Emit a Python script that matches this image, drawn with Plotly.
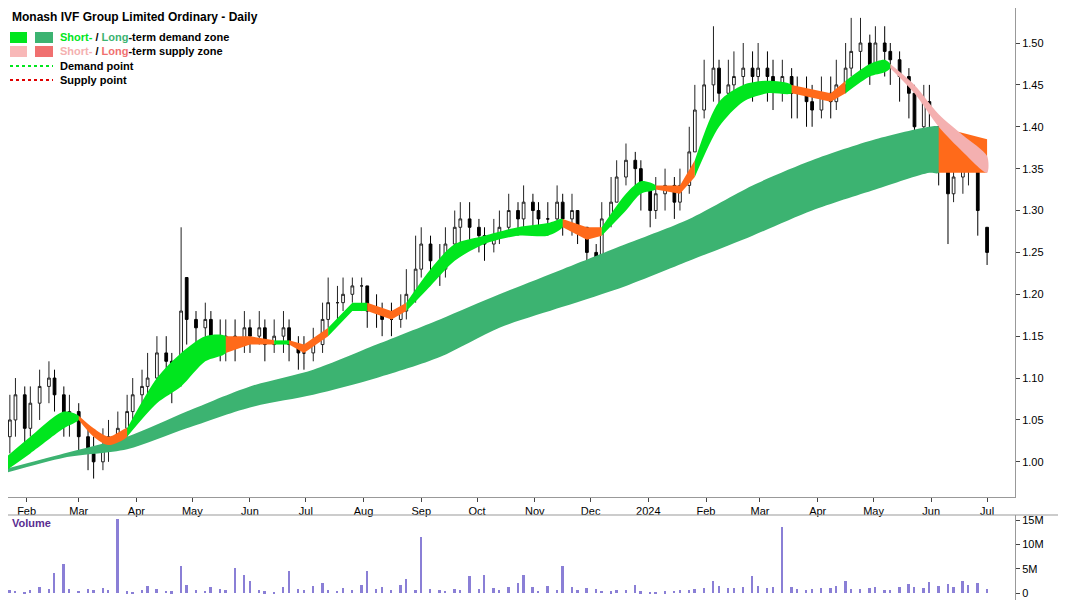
import pandas as pd
import plotly.graph_objects as go

# price bars, one every 3 trading days
dates = pd.bdate_range("2023-01-18", periods=127, freq="3B")
close = [1.03, 1.05, 1.08, 1.04, 1.07, 1.09, 1.10, 1.08, 1.05, 1.06,
         1.03, 1.01, 1.00, 1.02, 1.03, 1.04, 1.06, 1.08, 1.09, 1.10,
         1.13, 1.12, 1.09, 1.18, 1.17, 1.16, 1.17, 1.15, 1.14, 1.15,
         1.14, 1.16, 1.15, 1.16, 1.14, 1.15, 1.16, 1.14, 1.13, 1.13,
         1.14, 1.17, 1.19, 1.19, 1.20, 1.21, 1.21, 1.18, 1.18, 1.17,
         1.17, 1.18, 1.20, 1.23, 1.26, 1.24, 1.23, 1.26, 1.28, 1.29,
         1.28, 1.27, 1.26, 1.27, 1.28, 1.30, 1.29, 1.31, 1.30, 1.29,
         1.29, 1.31, 1.29, 1.30, 1.28, 1.25, 1.24, 1.29, 1.31, 1.34,
         1.36, 1.35, 1.33, 1.30, 1.32, 1.33, 1.31, 1.33, 1.37, 1.42,
         1.45, 1.47, 1.44, 1.45, 1.46, 1.47, 1.46, 1.47, 1.46, 1.45,
         1.46, 1.44, 1.44, 1.43, 1.42, 1.44, 1.43, 1.45, 1.47, 1.49,
         1.50, 1.47, 1.50, 1.49, 1.48, 1.46, 1.44, 1.40, 1.43, 1.42,
         1.36, 1.32, 1.34, 1.35, 1.37, 1.30, 1.25]
open_ = [1.01, 1.03, 1.05, 1.08, 1.04, 1.07, 1.09, 1.10, 1.08, 1.05,
         1.06, 1.03, 1.01, 1.00, 1.02, 1.03, 1.04, 1.06, 1.08, 1.09,
         1.10, 1.13, 1.12, 1.10, 1.22, 1.17, 1.16, 1.17, 1.15, 1.14,
         1.15, 1.14, 1.16, 1.15, 1.16, 1.14, 1.15, 1.16, 1.14, 1.13,
         1.13, 1.14, 1.17, 1.19, 1.19, 1.20, 1.21, 1.21, 1.18, 1.18,
         1.17, 1.17, 1.18, 1.20, 1.23, 1.26, 1.24, 1.23, 1.26, 1.28,
         1.29, 1.28, 1.27, 1.26, 1.27, 1.28, 1.30, 1.29, 1.31, 1.30,
         1.29, 1.29, 1.31, 1.29, 1.30, 1.28, 1.25, 1.24, 1.29, 1.31,
         1.34, 1.36, 1.35, 1.33, 1.30, 1.32, 1.33, 1.31, 1.33, 1.37,
         1.42, 1.45, 1.47, 1.44, 1.45, 1.46, 1.47, 1.46, 1.47, 1.46,
         1.45, 1.46, 1.44, 1.44, 1.43, 1.42, 1.44, 1.43, 1.45, 1.47,
         1.49, 1.50, 1.47, 1.50, 1.49, 1.48, 1.46, 1.44, 1.40, 1.43,
         1.40, 1.36, 1.32, 1.34, 1.35, 1.37, 1.28]
high = [1.06, 1.08, 1.10, 1.09, 1.09, 1.11, 1.12, 1.11, 1.09, 1.08,
        1.07, 1.04, 1.03, 1.04, 1.05, 1.06, 1.08, 1.10, 1.11, 1.13,
        1.15, 1.15, 1.13, 1.28, 1.20, 1.18, 1.19, 1.18, 1.17, 1.17,
        1.17, 1.18, 1.17, 1.18, 1.17, 1.17, 1.18, 1.17, 1.15, 1.15,
        1.16, 1.19, 1.22, 1.21, 1.22, 1.22, 1.22, 1.21, 1.20, 1.19,
        1.19, 1.20, 1.23, 1.27, 1.28, 1.27, 1.26, 1.28, 1.30, 1.31,
        1.31, 1.29, 1.28, 1.29, 1.30, 1.32, 1.31, 1.33, 1.32, 1.31,
        1.31, 1.33, 1.32, 1.32, 1.30, 1.28, 1.26, 1.31, 1.34, 1.36,
        1.38, 1.37, 1.36, 1.33, 1.34, 1.35, 1.34, 1.35, 1.40, 1.45,
        1.48, 1.52, 1.48, 1.48, 1.49, 1.50, 1.49, 1.50, 1.49, 1.48,
        1.48, 1.47, 1.46, 1.46, 1.45, 1.46, 1.46, 1.48, 1.50, 1.53,
        1.53, 1.51, 1.52, 1.52, 1.50, 1.49, 1.47, 1.45, 1.45, 1.45,
        1.41, 1.38, 1.37, 1.37, 1.39, 1.38, 1.28]
low = [0.99, 1.01, 1.03, 1.02, 1.03, 1.05, 1.07, 1.06, 1.03, 1.03,
       1.01, 0.99, 0.98, 0.99, 1.00, 1.02, 1.03, 1.05, 1.06, 1.07,
       1.09, 1.10, 1.07, 1.09, 1.14, 1.14, 1.14, 1.13, 1.12, 1.12,
       1.12, 1.13, 1.13, 1.14, 1.12, 1.13, 1.13, 1.12, 1.11, 1.11,
       1.12, 1.13, 1.16, 1.17, 1.18, 1.19, 1.18, 1.16, 1.16, 1.15,
       1.15, 1.16, 1.17, 1.19, 1.22, 1.22, 1.21, 1.22, 1.25, 1.26,
       1.26, 1.25, 1.24, 1.25, 1.26, 1.27, 1.27, 1.28, 1.28, 1.27,
       1.27, 1.28, 1.27, 1.27, 1.26, 1.22, 1.21, 1.23, 1.28, 1.31,
       1.33, 1.32, 1.30, 1.28, 1.29, 1.30, 1.29, 1.30, 1.32, 1.37,
       1.41, 1.43, 1.41, 1.42, 1.43, 1.44, 1.43, 1.44, 1.43, 1.42,
       1.43, 1.41, 1.41, 1.40, 1.40, 1.41, 1.41, 1.42, 1.44, 1.46,
       1.46, 1.45, 1.47, 1.46, 1.45, 1.43, 1.41, 1.38, 1.39, 1.38,
       1.33, 1.26, 1.31, 1.32, 1.33, 1.27, 1.235]
volume_m = [0.4, 0.6, 0.5, 0.3, 0.7, 1.2, 0.8, 4.2, 6.0, 0.9,
            0.5, 0.8, 0.6, 1.1, 0.7, 15.3, 0.4, 0.3, 0.6, 1.4,
            0.8, 0.5, 0.4, 5.5, 1.6, 0.7, 0.5, 1.2, 0.9, 0.6,
            5.2, 3.6, 2.4, 0.6, 0.4, 0.3, 1.2, 4.5, 0.8, 0.6,
            1.5, 2.0, 0.7, 0.5, 1.0, 0.6, 1.7, 4.6, 0.9, 1.2,
            0.7, 1.6, 2.9, 0.7, 11.5, 0.8, 0.6, 0.5, 0.9, 0.7,
            3.4, 0.8, 3.8, 1.1, 0.6, 1.3, 2.0, 3.6, 1.2, 0.5,
            1.4, 0.7, 5.5, 1.3, 0.6, 1.0, 0.8, 0.5, 0.4, 0.7,
            0.6, 1.6, 0.4, 0.3, 0.3, 0.4, 0.5, 0.6, 0.7, 0.9,
            1.0, 2.5, 1.5, 1.1, 1.0, 1.3, 3.5, 1.4, 1.0, 1.2,
            13.5, 1.3, 0.9, 0.7, 0.8, 1.0, 1.1, 1.5, 2.4, 0.9,
            0.8, 1.1, 1.3, 0.7, 0.6, 1.2, 1.8, 1.3, 1.1, 2.3,
            1.5, 1.9, 1.2, 2.4, 1.6, 2.1, 0.9]

# long-term zone (index into bar dates)
lt_idx = [0, 8, 16, 24, 32, 40, 48, 56, 64, 72, 80, 88, 96, 104, 112, 119, 120, 126]
lt_lo = [0.985, 1.005, 1.015, 1.04, 1.065, 1.08, 1.10, 1.125, 1.16, 1.185,
         1.21, 1.24, 1.27, 1.30, 1.325, 1.345, 1.345, 1.345]
lt_hi = [0.99, 1.01, 1.03, 1.06, 1.09, 1.11, 1.14, 1.17, 1.20, 1.23,
         1.26, 1.29, 1.33, 1.36, 1.385, 1.40, 1.40, 1.385]
lt_state = ["d"] * 16 + ["s"] * 2

# short-term zone
st_idx = [0, 4, 8, 10, 12, 14, 16, 20, 23, 26, 29, 32, 35, 37, 39, 42, 45, 47,
          50, 52, 55, 58, 62, 66, 70, 72, 75, 77, 80, 82, 84, 87, 89, 92, 95,
          98, 101, 106, 108, 111, 113, 114, 117, 120, 123, 126]
st_lo = [0.985, 1.01, 1.04, 1.05, 1.03, 1.02, 1.03, 1.07, 1.09, 1.12, 1.13,
         1.14, 1.14, 1.14, 1.13, 1.15, 1.18, 1.18, 1.17, 1.18, 1.21, 1.24,
         1.26, 1.27, 1.27, 1.28, 1.265, 1.27, 1.30, 1.32, 1.325, 1.32, 1.34,
         1.40, 1.43, 1.44, 1.44, 1.43, 1.44, 1.46, 1.465, 1.47, 1.44, 1.40,
         1.37, 1.345]
st_hi = [1.00, 1.03, 1.06, 1.055, 1.04, 1.03, 1.04, 1.10, 1.13, 1.15, 1.15,
         1.15, 1.145, 1.145, 1.14, 1.16, 1.19, 1.19, 1.18, 1.19, 1.23, 1.26,
         1.27, 1.28, 1.285, 1.29, 1.28, 1.28, 1.32, 1.335, 1.33, 1.33, 1.36,
         1.43, 1.45, 1.455, 1.45, 1.44, 1.455, 1.475, 1.48, 1.475, 1.45, 1.415,
         1.39, 1.365]
st_state = ["d", "d", "d", "s", "s", "s", "d", "d", "d", "d", "s", "s", "d",
            "s", "s", "d", "d", "s", "s", "d", "d", "d", "d", "d", "d", "s",
            "s", "d", "d", "d", "s", "s", "d", "d", "d", "d", "s", "s", "d",
            "d", "d", "p", "p", "p", "p", "p"]

zone_colors = {"d": "#00e61e", "s": "#ff6a1a", "p": "#f4b0b0"}
lt_colors = {"d": "#3cb371", "s": "#ff6a1a"}

# page is offset 8px by the browser body margin; map page pixels to paper
OFF = 8
PW = 1007


def px(x):
    return (x - OFF) / PW


def py(y):
    return 1 - (y - OFF) / 600


fig = go.Figure()


def add_zone(idx, lo, hi, state, colors):
    # split the band into runs of one state, sharing end points
    start = 0
    for k in range(1, len(idx) + 1):
        if k == len(idx) or state[k] != state[start]:
            end = min(k, len(idx) - 1)
            xs = [dates[i] for i in idx[start:end + 1]]
            top = hi[start:end + 1]
            bot = lo[start:end + 1]
            shape = "spline" if end - start > 2 else "linear"
            fig.add_trace(go.Scatter(
                x=xs + xs[::-1], y=top + bot[::-1], fill="toself",
                fillcolor=colors[state[start]], mode="lines",
                line=dict(width=0, shape=shape, smoothing=0.8),
                hoverinfo="skip", showlegend=False, yaxis="y"))
            start = k


add_zone(lt_idx, lt_lo, lt_hi, lt_state, lt_colors)
add_zone(st_idx, st_lo, st_hi, st_state, zone_colors)

fig.add_trace(go.Candlestick(
    x=dates, open=open_, high=high, low=low, close=close,
    increasing=dict(line=dict(color="#222222", width=1), fillcolor="white"),
    decreasing=dict(line=dict(color="#000000", width=1), fillcolor="black"),
    whiskerwidth=0, showlegend=False, yaxis="y"))

fig.add_trace(go.Bar(
    x=dates, y=[v * 1e6 for v in volume_m], marker_color="#8a7fd6",
    marker_line_width=0, width=1.0 * 86400000, showlegend=False,
    xaxis="x2", yaxis="y2"))

months = pd.date_range("2023-02-01", "2024-07-01", freq="MS")
tick_text = ["2024" if m.month == 1 else m.strftime("%b") for m in months]
x_range = ["2023-01-22", "2024-07-16"]

fig.update_layout(
    width=1066, height=600,
    margin=dict(l=0, r=59, t=0, b=0),
    paper_bgcolor="white", plot_bgcolor="white",
    font=dict(family="Liberation Sans, Arial", size=11, color="black"),
    xaxis=dict(range=x_range, tickvals=months,
               ticktext=tick_text, ticks="outside", ticklen=4,
               showgrid=False, showline=True, linecolor="#999999",
               rangeslider=dict(visible=False), anchor="y"),
    yaxis=dict(domain=[0.185, 1], range=[0.958, 1.5418], side="right",
               tickvals=[1.00, 1.05, 1.10, 1.15, 1.20, 1.25, 1.30, 1.35,
                         1.40, 1.45, 1.50],
               tickformat=".2f", ticks="outside", ticklen=4,
               showgrid=False, showline=True, linecolor="#999999",
               zeroline=False),
    xaxis2=dict(range=x_range, anchor="y2",
                showticklabels=False, showgrid=False, showline=False),
    yaxis2=dict(domain=[0, 0.155], range=[-3.08e6, 16.03e6], side="right",
                anchor="x2", tickvals=[0, 5e6, 10e6, 15e6],
                ticktext=["0", "5M", "10M", "15M"], ticks="outside",
                ticklen=4, showgrid=False, showline=True,
                linecolor="#999999", zeroline=False),
    bargap=0,
)

# separator above volume panel
fig.add_shape(type="line", xref="paper", yref="paper", x0=0, x1=1.06,
              y0=py(515), y1=py(515), line=dict(color="#999999", width=1))

fig.add_annotation(x=px(10), y=1, xref="paper", yref="paper",
                   text="<b>Monash IVF Group Limited Ordinary - Daily</b>",
                   showarrow=False, xanchor="left", yanchor="top",
                   font=dict(size=12))

ann = [
    (58, 37, "<b><span style='color:#00e61e'>Short-</span> / "
             "<span style='color:#3cb371'>Long</span>-term demand zone</b>"),
    (58, 51, "<b><span style='color:#f4b0b0'>Short-</span> / "
             "<span style='color:#f07070'>Long</span>-term supply zone</b>"),
    (58, 66, "<b>Demand point</b>"),
    (58, 80, "<b>Supply point</b>"),
    (10, 523, "<b><span style='color:#5a2d91'>Volume</span></b>"),
]
for ax, ay, txt in ann:
    fig.add_annotation(x=px(ax), y=py(ay), xref="paper",
                       yref="paper", text=txt, showarrow=False,
                       xanchor="left", yanchor="middle",
                       font=dict(size=11))


def px_rect(x0, y0, x1, y1, color):
    fig.add_shape(type="rect", xref="paper", yref="paper",
                  x0=px(x0), x1=px(x1), y0=py(y1), y1=py(y0),
                  fillcolor=color, line_width=0)


px_rect(10, 32, 27, 43, "#00e61e")
px_rect(35, 32, 53, 43, "#3cb371")
px_rect(10, 46, 27, 57, "#f8b8b8")
px_rect(35, 46, 53, 57, "#f07070")
for yy, col in [(66, "#00e61e"), (80, "#e00000")]:
    fig.add_shape(type="line", xref="paper", yref="paper", x0=px(10),
                  x1=px(53), y0=py(yy), y1=py(yy),
                  line=dict(color=col, width=2, dash="dot"))

fig.write_html("out.html")
